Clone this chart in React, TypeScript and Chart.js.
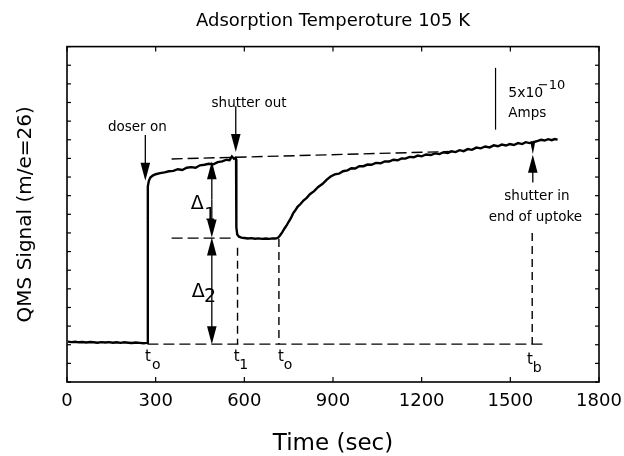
import React, { useEffect, useRef } from 'react';
import { Chart, registerables } from 'chart.js';

Chart.register(...registerables);

// ---------- text ----------
const TITLE = 'Adsorption Temperoture 105 K';
const X_LABEL = 'Time (sec)';
const Y_LABEL = 'QMS Signal (m/e=26)';
const X_TICKS = [0, 300, 600, 900, 1200, 1500, 1800];
const Y_TICKS = [0, 1, 2, 3, 4, 5, 6, 7, 8, 9, 10, 11, 12, 13, 14, 15, 16, 17, 18];

// ---------- QMS trace (time in s, signal in arbitrary units of 1/18 of the frame) ----------
const baselineTime = [3, 15, 28, 40, 52, 65, 78, 90, 103, 116, 129, 142, 155, 168, 181, 194, 207, 220, 233, 246, 259, 270];
const baselineSignal = [2.17, 2.14, 2.16, 2.13, 2.15, 2.12, 2.15, 2.13, 2.11, 2.14, 2.12, 2.14, 2.11, 2.13, 2.10, 2.13, 2.11, 2.09, 2.12, 2.10, 2.08, 2.10];

const doserTime = [272, 273, 274, 277, 282, 290, 300, 315, 330, 345, 360, 375, 390, 405, 420, 435, 450, 465, 480, 495, 510, 525, 540, 550, 558, 565, 570];
const doserSignal = [2.10, 6.5, 10.5, 10.8, 10.97, 11.08, 11.15, 11.21, 11.25, 11.31, 11.33, 11.42, 11.38, 11.50, 11.53, 11.50, 11.63, 11.66, 11.71, 11.68, 11.80, 11.84, 11.93, 11.90, 12.10, 11.98, 12.03];

const shutterTime = [572, 573, 576, 582, 590, 600, 612, 624, 636, 648, 660, 672, 684, 696, 706, 714];
const shutterSignal = [11.95, 8.3, 7.92, 7.80, 7.75, 7.73, 7.70, 7.72, 7.69, 7.71, 7.68, 7.70, 7.68, 7.71, 7.70, 7.74];

const uptakeTime = [720, 728, 736, 743, 750, 757, 765, 772, 780, 790, 800, 811, 822, 836, 850, 865, 879,
  892, 906, 920, 934, 949, 962, 975, 989, 1003, 1017, 1030, 1045, 1061, 1075, 1090, 1104, 1119, 1132, 1145,
  1159, 1173, 1187, 1200, 1215, 1231, 1245, 1260, 1274, 1288, 1301, 1315, 1328, 1342, 1356, 1370, 1385, 1400,
  1415, 1430, 1444, 1458, 1471, 1485, 1498, 1512, 1526, 1540, 1552, 1565, 1572, 1576, 1580, 1593, 1604, 1616,
  1628, 1640, 1650, 1660];
const uptakeSignal = [7.85, 8.03, 8.24, 8.40, 8.60, 8.78, 9.05, 9.20, 9.40, 9.55, 9.74, 9.88, 10.08, 10.24, 10.47, 10.64, 10.86,
  11.03, 11.14, 11.18, 11.31, 11.36, 11.47, 11.46, 11.58, 11.58, 11.67, 11.66, 11.76, 11.74, 11.84, 11.83, 11.93, 11.90, 12.00, 11.99,
  12.08, 12.06, 12.15, 12.11, 12.21, 12.18, 12.27, 12.23, 12.33, 12.29, 12.38, 12.34, 12.44, 12.39, 12.50, 12.46, 12.58, 12.54,
  12.64, 12.59, 12.70, 12.65, 12.74, 12.69, 12.77, 12.72, 12.82, 12.77, 12.87, 12.82, 12.86, 12.55, 12.88, 12.94, 13.00, 12.96,
  13.03, 12.98, 13.04, 13.01];

// ---------- dashed construction lines ----------
const saturationLineTime = [354, 1300];
const saturationLineSignal = [11.97, 12.37];
const shutterLevelTime = [354, 565];
const shutterLevelSignal = [7.72, 7.72];
const baseLevelTime = [272, 1617];
const baseLevelSignal = [2.03, 2.03];
const t1LineTime = [577, 577];
const t1LineSignal = [7.2, 2.03];
const taLineTime = [717, 717];
const taLineSignal = [7.68, 2.03];
const tbLineTime = [1574, 1574];
const tbLineSignal = [8.0, 2.03];

// ---------- arrows: [time, from, to(tip)] ----------
const arrowTime = [265, 571, 490, 490, 490, 490, 1576];
const arrowFrom = [13.25, 14.8, 9.8, 9.8, 4.9, 4.9, 10.7];
const arrowTip = [10.8, 12.35, 11.85, 7.75, 7.75, 2.03, 12.2];

// scale bar (5x10^-10 Amps)
const scaleBarTime = [1450, 1450];
const scaleBarSignal = [13.54, 16.86];

// ---------- annotation labels ----------
const labelText = ['doser on', 'shutter out', 'Δ', '1', 'Δ', '2', 'shutter in', 'end of uptoke', '5x10', '−10', 'Amps',
  't', 'o', 't', '1', 't', 'o', 't', 'b'];
const labelTime = [238, 616, 441, 484, 444, 484, 1590, 1585, 1493, 1593, 1493, 274, 302, 574, 598, 724, 748, 1566, 1591];
const labelSignal = [13.67, 14.92, 9.56, 8.95, 4.85, 4.54, 9.96, 8.85, 15.48, 15.92, 14.4, 1.36, 0.91, 1.36, 0.91, 1.36, 0.91, 1.18, 0.75];
const labelSize = [13.5, 13.5, 19, 18, 19, 19, 13.5, 13.5, 14, 13, 13.5, 15, 14, 15, 14, 15, 14, 15, 14];
const labelAlign = ['center', 'center', 'center', 'center', 'center', 'center', 'center', 'center', 'left', 'left', 'left',
  'center', 'center', 'center', 'center', 'center', 'center', 'center', 'center'];

const FONT = '"DejaVu Sans", "Liberation Sans", sans-serif';

const toPoints = (xs: number[], ys: number[]) => xs.map((x, i) => ({ x, y: ys[i] }));

const decorPlugin = {
  id: 'decor',
  afterDatasetsDraw(chart: any) {
    const { ctx, chartArea: a, scales } = chart;
    const xs = scales.x;
    const ys = scales.y;
    ctx.save();
    ctx.strokeStyle = '#000';
    ctx.fillStyle = '#000';
    const seg = (x1: number, y1: number, x2: number, y2: number) => {
      ctx.beginPath();
      ctx.moveTo(x1, y1);
      ctx.lineTo(x2, y2);
      ctx.stroke();
    };
    // frame
    ctx.lineWidth = 1.6;
    ctx.strokeRect(a.left, a.top, a.right - a.left, a.bottom - a.top);
    // inward ticks
    ctx.lineWidth = 1.2;
    xs.ticks.forEach((tk: any) => {
      const px = xs.getPixelForValue(tk.value);
      seg(px, a.bottom, px, a.bottom - 5);
      seg(px, a.top, px, a.top + 5);
    });
    ys.ticks.forEach((tk: any) => {
      const py = ys.getPixelForValue(tk.value);
      seg(a.left, py, a.left + 4, py);
      seg(a.right, py, a.right - 4, py);
    });
    // arrows
    const headLen = 18;
    const halfW = 4.8;
    ctx.lineWidth = 1.3;
    arrowTime.forEach((t, i) => {
      const px = xs.getPixelForValue(t);
      const p0 = ys.getPixelForValue(arrowFrom[i]);
      const p1 = ys.getPixelForValue(arrowTip[i]);
      const dir = p1 > p0 ? 1 : -1;
      seg(px, p0, px, p1 - dir * headLen * 0.8);
      ctx.beginPath();
      ctx.moveTo(px, p1);
      ctx.lineTo(px - halfW, p1 - dir * headLen);
      ctx.lineTo(px + halfW, p1 - dir * headLen);
      ctx.closePath();
      ctx.fill();
    });
    // scale bar
    ctx.lineWidth = 1.2;
    const sbx = xs.getPixelForValue(scaleBarTime[0]);
    seg(sbx, ys.getPixelForValue(scaleBarSignal[0]), sbx, ys.getPixelForValue(scaleBarSignal[1]));
    // labels
    ctx.textBaseline = 'middle';
    labelText.forEach((txt, i) => {
      ctx.font = `${labelSize[i]}px ${FONT}`;
      ctx.textAlign = labelAlign[i];
      ctx.fillText(txt, xs.getPixelForValue(labelTime[i]), ys.getPixelForValue(labelSignal[i]));
    });
    ctx.restore();
  },
};

export default function App() {
  const ref = useRef<HTMLCanvasElement | null>(null);
  useEffect(() => {
    if (!ref.current) return;
    const dashed = (xs: number[], ys: number[], dash: number[]) => ({
      data: toPoints(xs, ys),
      borderColor: '#000',
      borderWidth: 1.4,
      borderDash: dash,
      pointRadius: 0,
      fill: false,
      tension: 0,
    });
    const trace = (xs: number[], ys: number[]) => ({
      data: toPoints(xs, ys),
      borderColor: '#000',
      borderWidth: 2.4,
      pointRadius: 0,
      fill: false,
      tension: 0,
    });
    const chart = new Chart(ref.current, {
      type: 'line',
      data: {
        datasets: [
          trace(
            [...baselineTime, ...doserTime, ...shutterTime, ...uptakeTime],
            [...baselineSignal, ...doserSignal, ...shutterSignal, ...uptakeSignal],
          ),
          dashed(saturationLineTime, saturationLineSignal, [11, 5]),
          dashed(shutterLevelTime, shutterLevelSignal, [11, 5]),
          dashed(baseLevelTime, baseLevelSignal, [11, 5]),
          dashed(t1LineTime, t1LineSignal, [8, 5]),
          dashed(taLineTime, taLineSignal, [8, 5]),
          dashed(tbLineTime, tbLineSignal, [8, 5]),
        ] as any,
      },
      options: {
        animation: false,
        responsive: false,
        devicePixelRatio: 1,
        layout: { padding: { left: 0, right: 25, top: 0, bottom: 0 } },
        plugins: {
          legend: { display: false },
          tooltip: { enabled: false },
          title: {
            display: true,
            text: TITLE,
            color: '#000',
            fullSize: false,
            font: { family: FONT, size: 18, weight: 'normal', lineHeight: 1.2 },
            padding: { top: 11, bottom: 14 },
          },
        },
        scales: {
          x: {
            type: 'linear',
            min: 0,
            max: 1800,
            afterBuildTicks: (s: any) => { s.ticks = X_TICKS.map((v) => ({ value: v })); },
            afterFit: (s: any) => { s.height = 74; s.paddingLeft = 0; s.paddingRight = 0; },
            ticks: {
              color: '#000', padding: 9, maxRotation: 0, autoSkip: false,
              font: { family: FONT, size: 18, lineHeight: 1.2 },
              callback: (v: any) => String(v),
            },
            grid: { display: false, drawTicks: false },
            border: { display: false },
            title: { display: true, text: X_LABEL, color: '#000', padding: { top: 0, bottom: 0 }, font: { family: FONT, size: 23, lineHeight: 1 } },
          },
          y: {
            type: 'linear',
            min: 0,
            max: 18,
            afterBuildTicks: (s: any) => { s.ticks = Y_TICKS.map((v) => ({ value: v })); },
            afterFit: (s: any) => { s.width = 67; s.paddingTop = 0; s.paddingBottom = 0; },
            ticks: { display: false },
            grid: { display: false, drawTicks: false },
            border: { display: false },
            title: { display: true, text: Y_LABEL, color: '#000', padding: { top: 16, bottom: 0 }, font: { family: FONT, size: 20, lineHeight: 1 } },
          },
        },
      } as any,
      plugins: [decorPlugin as any],
    });
    return () => chart.destroy();
  }, []);
  return (
    <div style={{ position: 'fixed', left: 0, top: 0, width: 624, height: 456, background: '#fff' }}>
      <canvas ref={ref} width={624} height={456} style={{ display: 'block' }} />
    </div>
  );
}
